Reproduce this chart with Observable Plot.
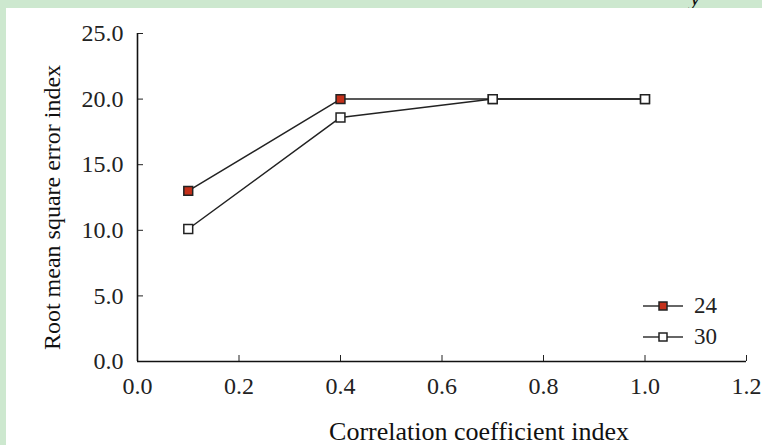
<!DOCTYPE html>
<html>
<head>
<meta charset="utf-8">
<script src="https://cdn.jsdelivr.net/npm/d3@7"></script>
<script src="https://cdn.jsdelivr.net/npm/@observablehq/plot@0.6"></script>
<style>
  html, body { margin: 0; padding: 0; }
  body { width: 762px; height: 445px; background: #cde8cf; position: relative; overflow: hidden; font-family: "Liberation Serif", "Times New Roman", "DejaVu Serif", serif; }
  #panel { position: absolute; left: 6px; top: 8px; width: 756px; height: 437px; background: #fff; }
  #panel svg { position: absolute; left: 0; top: 0; }
  #panel svg, #panel svg text { font-family: "Liberation Serif", "Times New Roman", "DejaVu Serif", serif !important; }
  #legend { position: absolute; left: 637px; top: 282px; font-size: 23px; color: #222; line-height: 31px; }
  #legend, #legend span { font-family: "Liberation Serif", "Times New Roman", "DejaVu Serif", serif !important; }
  #legend .item { display: flex; align-items: center; height: 31px; }
  #legend svg { position: static; margin-right: 11px; }
  #cut { position: absolute; left: 690px; top: -16px; font-size: 24px; font-style: italic; color: #111; }
</style>
</head>
<body>
<div id="cut">y</div>
<div id="panel"></div>
<script>
const xValues = [0.1, 0.4, 0.7, 1.0];
const series24 = [13.0, 20.0, 20.0, 20.0];
const series30 = [10.1, 18.6, 20.0, 20.0];
const seriesNames = ["24", "30"];
const xTicks = [0, 0.2, 0.4, 0.6, 0.8, 1.0, 1.2];
const yTicks = [0, 5, 10, 15, 20, 25];
const xLabel = "Correlation coefficient index";
const yLabel = "Root mean square error index";
const fills = {"24": "#c4301a", "30": "#ffffff"};

const data = [];
xValues.forEach((x, i) => data.push({x, y: series24[i], s: "24"}));
xValues.forEach((x, i) => data.push({x, y: series30[i], s: "30"}));

const chart = Plot.plot({
  width: 756,
  height: 437,
  marginLeft: 131,
  marginRight: 16,
  marginTop: 25,
  marginBottom: 84,
  style: {fontSize: "24px", color: "#222", background: "transparent"},
  x: {domain: [0, 1.2]},
  y: {domain: [0, 25]},
  marks: [
    Plot.axisX({ticks: xTicks, tickFormat: d => d.toFixed(1), tickSize: -6, tickPadding: 21, label: null, fontSize: 24}),
    Plot.axisY({ticks: yTicks, tickFormat: d => d.toFixed(1), tickSize: -6, tickPadding: 20, label: null, fontSize: 24}),
    Plot.ruleX([0], {stroke: "#111", strokeWidth: 1.6}),
    Plot.ruleY([0], {stroke: "#111", strokeWidth: 1.6}),
    Plot.line(data.filter(d => d.s === "24"), {x: "x", y: "y", stroke: "#222", strokeWidth: 1.5}),
    Plot.line(data.filter(d => d.s === "30"), {x: "x", y: "y", stroke: "#222", strokeWidth: 1.5}),
    Plot.dot(data.filter(d => d.s === "24"), {x: "x", y: "y", symbol: "square", r: 5, fill: fills["24"], stroke: "#222", strokeWidth: 1.5}),
    Plot.dot(data.filter(d => d.s === "30"), {x: "x", y: "y", symbol: "square", r: 5, fill: fills["30"], stroke: "#222", strokeWidth: 1.5}),
    Plot.text([xLabel], {frameAnchor: "bottom", textAnchor: "middle", lineAnchor: "middle", dx: 37, dy: 70, fontSize: 26, fill: "#111"}),
    Plot.text([yLabel], {frameAnchor: "left", textAnchor: "middle", lineAnchor: "middle", dx: -85, dy: 10, rotate: -90, fontSize: 24, fill: "#111"})
  ]
});
document.getElementById("panel").appendChild(chart);

const legend = document.createElement("div");
legend.id = "legend";
seriesNames.forEach(name => {
  const item = document.createElement("div");
  item.className = "item";
  item.innerHTML = `<svg width="40" height="14"><line x1="0" y1="7" x2="40" y2="7" stroke="#333" stroke-width="1.5"/><rect x="16" y="3" width="8" height="8" fill="${fills[name]}" stroke="#222" stroke-width="1.5"/></svg><span>${name}</span>`;
  legend.appendChild(item);
});
document.getElementById("panel").appendChild(legend);
</script>
</body>
</html>
